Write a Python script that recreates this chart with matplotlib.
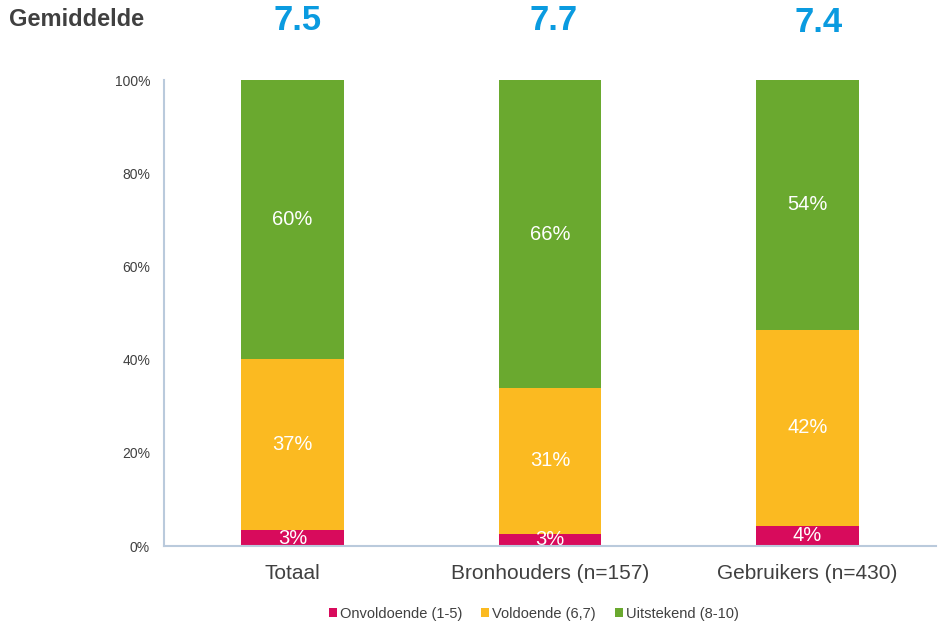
import matplotlib
matplotlib.use("Agg")
import matplotlib.pyplot as plt
import numpy as np

plt.rcParams['font.family'] = ['Liberation Sans', 'DejaVu Sans']

categories = ['Totaal', 'Bronhouders (n=157)', 'Gebruikers (n=430)']
onvoldoende = [3.4, 2.6, 4.3]
voldoende = [36.7, 31.3, 42.1]
uitstekend = [59.9, 66.1, 53.6]
gemiddelde = ['7.5', '7.7', '7.4']
series_names = ['Onvoldoende (1-5)', 'Voldoende (6,7)', 'Uitstekend (8-10)']
colors = ['#D80B5C', '#FBBA21', '#6AA92F']

fig = plt.figure(figsize=(9.42, 6.27), dpi=100)
ax = fig.add_axes([164/942, 1 - 546/627, 772/942, 466/627])

x = np.arange(len(categories))
bottom = np.zeros(len(categories))
for vals, name, col in zip([onvoldoende, voldoende, uitstekend], series_names, colors):
    vals = np.array(vals)
    ax.bar(x, vals, width=0.4, bottom=bottom, color=col, label=name, zorder=2)
    for xi, b, v in zip(x, bottom, vals):
        ax.text(xi, b + v / 2, f'{round(v):.0f}%', ha='center', va='center',
                color='white', fontsize=14.5, zorder=3, clip_on=True)
    bottom += vals

ax.set_xlim(-0.5, 2.5)
ax.set_ylim(0, 100)
ax.set_yticks(range(0, 101, 20))
ax.set_yticklabels([f'{v}%' for v in range(0, 101, 20)])
ax.set_xticks(x)
ax.set_xticklabels(categories, fontsize=15, color='#404040')
ax.tick_params(axis='y', length=0, labelsize=10, labelcolor='#404040', pad=10)
ax.tick_params(axis='x', length=0, pad=13)
for s in ['top', 'right']:
    ax.spines[s].set_visible(False)
for s in ['left', 'bottom']:
    ax.spines[s].set_color('#BACADC')
    ax.spines[s].set_linewidth(1.5)
    ax.spines[s].set_zorder(4)

# averages on top
fig.text(9/942, 1 - 20/627, 'Gemiddelde', fontsize=17, fontweight='bold',
         color='#404040', va='center', ha='left')
# small offsets (px) as in the original slide
for xi, g, dx, yc in zip(x, gemiddelde, [5, 4, 11], [20, 20, 22]):
    xf = (ax.transData.transform((xi, 0))[0] + dx) / fig.bbox.width
    fig.text(xf, 1 - yc/627, g, fontsize=25, fontweight='bold', color='#0A9BE0',
             ha='center', va='center')

leg = fig.legend(loc='center', bbox_to_anchor=(534/942, 1 - 614/627), ncol=3,
                 frameon=False, fontsize=10.5, handlelength=0.55, handleheight=0.55,
                 handletextpad=0.2, columnspacing=1.3)
for t in leg.get_texts():
    t.set_color('#404040')

fig.savefig('out.png', dpi=100)
